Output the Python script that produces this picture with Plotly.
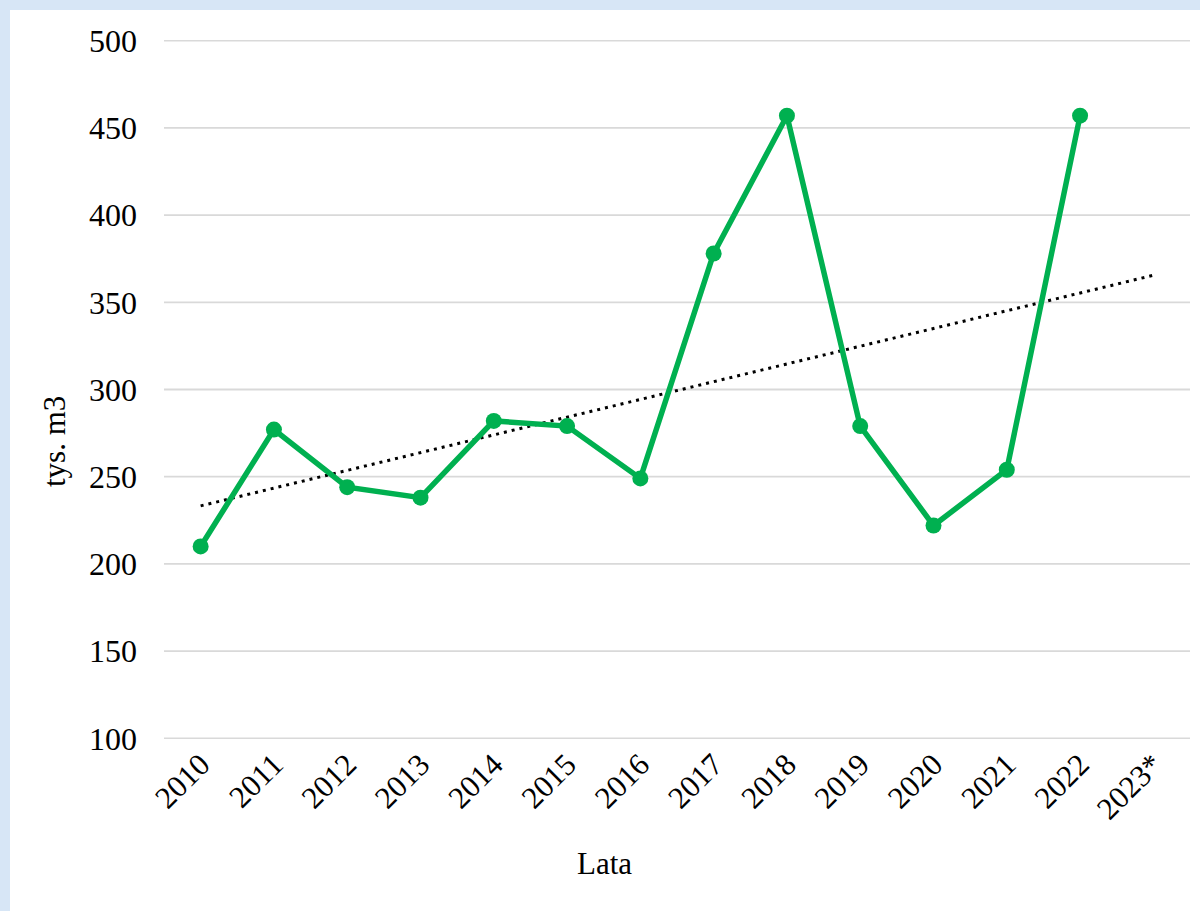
import numpy as np
import plotly.graph_objects as go

years = ["2010", "2011", "2012", "2013", "2014", "2015", "2016",
         "2017", "2018", "2019", "2020", "2021", "2022", "2023*"]
values = [210, 277, 244, 238, 282, 279, 249, 378, 457, 279, 222, 254, 457]
y_ticks = [100, 150, 200, 250, 300, 350, 400, 450, 500]

# linear trendline (least squares on observed years, extended one period forward)
idx = np.arange(len(values))
slope, intercept = np.polyfit(idx, values, 1)
trend_x = [years[0], years[-1]]
trend_y = [intercept, intercept + slope * (len(years) - 1)]

FONT = "Liberation Serif"
W, H = 1200, 911
L, R, T, B = 164, 10, 40, 172
pw, ph = W - L - R, H - T - B

def px(x):
    return (x - L) / pw

def py(y):
    return (H - B - y) / ph

shapes = [dict(type="rect", xref="paper", yref="paper", layer="below",
               x0=px(10), x1=px(1205), y0=py(10), y1=py(915),
               fillcolor="white", line=dict(width=0))]
for v in y_ticks:
    shapes.append(dict(type="line", xref="paper", yref="y", layer="below",
                       x0=0, x1=1, y0=v, y1=v,
                       line=dict(color="#d9d9d9", width=1.8)))

fig = go.Figure()
fig.add_trace(go.Scatter(
    x=trend_x, y=trend_y, mode="lines",
    line=dict(color="black", width=3, dash="3px,5px"),
    hoverinfo="skip", showlegend=False,
))
fig.add_trace(go.Scatter(
    x=years[:len(values)], y=values, mode="lines+markers",
    line=dict(color="#00b050", width=5.5),
    marker=dict(color="#00b050", size=16),
    showlegend=False,
))

fig.update_layout(
    width=W, height=H,
    margin=dict(l=L, r=R, t=T, b=B),
    paper_bgcolor="#d7e6f6",
    plot_bgcolor="rgba(0,0,0,0)",
    font=dict(family=FONT, size=31, color="black"),
    shapes=shapes,
    annotations=[
        dict(text="tys. m3", xref="paper", yref="paper", x=px(54), y=py(442),
             textangle=-90, showarrow=False, xanchor="center", yanchor="middle",
             font=dict(family=FONT, size=31)),
        dict(text="Lata", xref="paper", yref="paper", x=px(604), y=py(863),
             showarrow=False, xanchor="center", yanchor="middle",
             font=dict(family=FONT, size=31)),
    ],
)
fig.update_xaxes(
    type="category", categoryorder="array", categoryarray=years,
    range=[-0.5, len(years) - 0.5],
    tickvals=years, ticktext=years, tickangle=-45,
    showgrid=False, showline=False, zeroline=False, ticks="",
    tickfont=dict(family=FONT, size=31),
)
fig.update_yaxes(
    range=[99.6, 500.4], tickvals=y_ticks,
    showgrid=False, zeroline=False, showline=False, ticks="",
    ticklabelstandoff=26,
    tickfont=dict(family=FONT, size=32),
)

fig.write_html(
    "out.html",
    config={"displayModeBar": False},
    post_script="document.body.style.margin='0';document.body.style.overflow='hidden';",
)
